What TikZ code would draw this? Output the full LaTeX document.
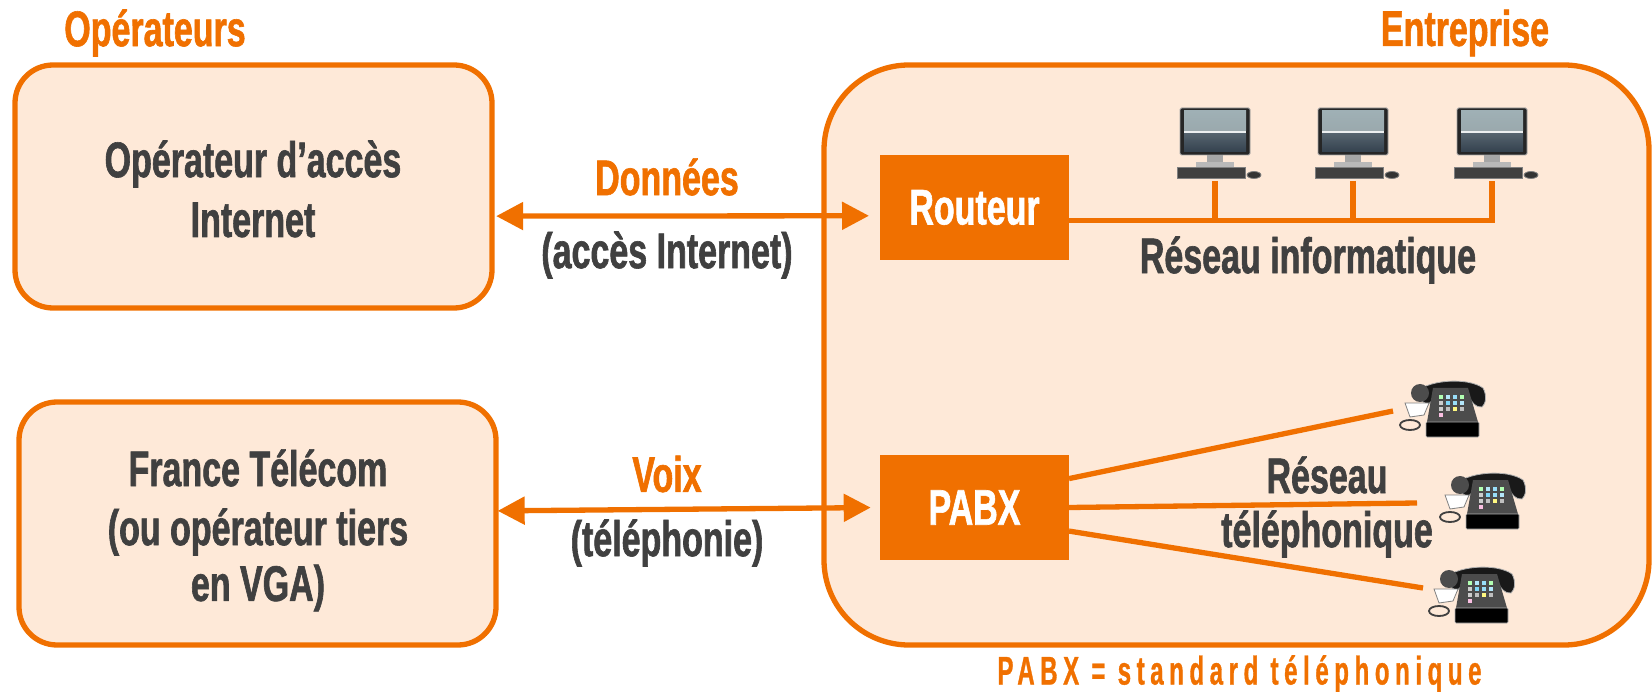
\documentclass[tikz,border=0pt]{standalone}
\usepackage{fontspec}
\usepackage{xcolor}
\usetikzlibrary{arrows.meta,shapes.geometric}
\setmainfont[FakeStretch=0.68,BoldFeatures={FakeBold=1.2}]{Liberation Sans}
\newfontfamily\spacedfont[FakeStretch=0.6,LetterSpace=14,BoldFeatures={FakeBold=0.8}]{Liberation Sans}
\definecolor{orangeft}{HTML}{F07000}
\definecolor{peachft}{HTML}{FEE9D8}
\definecolor{greyft}{HTML}{404040}
\definecolor{screentop}{HTML}{9FB0B5}
\definecolor{screenlow}{HTML}{34414E}

\tikzset{
  pics/computer/.style={code={
    % monitor
    \fill[black!85,draw=gray!70,line width=.8pt,rounded corners=1.5pt] (-35,-73) rectangle (35,-26);
    \fill[top color=screentop,bottom color=screentop!85!gray] (-31,-70) rectangle (31,-50);
    \fill[white!80!screentop] (-31,-50) rectangle (31,-47);
    \fill[top color=screenlow!70!screentop,bottom color=screenlow] (-31,-47) rectangle (31,-29);
    % stand, keyboard and mouse
    \fill[gray!70] (-8,-26) rectangle (8,-19);
    \fill[gray!55] (-19,-19) rectangle (19,-14);
    \fill[black!75,draw=gray,line width=1pt] (-38,-13) rectangle (30,-2);
    \fill[black!80,draw=gray,line width=.8pt] (39,-6) ellipse [x radius=7,y radius=3.5];
  }},
  pics/telephone/.style={code={
    % handset
    \fill[black!90,draw=gray!60,line width=.8pt] (14,15) .. controls (28,-1) and (70,-3) .. (85,8) .. controls (89,15) and (88,24) .. (84,27)
      .. controls (78,28) and (73,22) .. (71,16) .. controls (60,11) and (40,12) .. (30,25) -- cycle;
    \fill[black!70] (22,13) circle [radius=9];
    % cradle and white handle
    \fill[white,draw=gray,line width=.8pt] (7,23) -- (31,23) -- (26,35) -- (12,37) -- cycle;
    \draw[black!75,line width=1.8pt] (12,45) ellipse [x radius=10,y radius=5];
    % body
    \fill[black!70] (35,8) -- (70,8) -- (80,42) -- (29,42) -- cycle;
    \fill[black,draw=gray!60,line width=.6pt,rounded corners=1pt] (28,42) rectangle (81,57);
    % keypad
    \foreach \kx/\ky/\kc in {43/17/green!30,50/17/cyan!30,57/17/cyan!40,64/17/green!30,
      43/23/gray!40,50/23/cyan!50,57/23/cyan!40,64/23/cyan!30,
      43/29/gray!40,50/29/gray!50,57/29/yellow!50,64/29/gray!50,43/35/magenta!25}
      \fill[\kc] (\kx-2,\ky-2) rectangle (\kx+2,\ky+2);
  }}
}

\begin{document}
\begin{tikzpicture}[x=1pt,y=-1pt,thick,>={Triangle[length=27pt,width=27pt]},
  textnode/.style={font=\fontsize{50}{60}\selectfont\bfseries,text=greyft,inner sep=0pt},
  titlenode/.style={textnode,text=orangeft},
  zone/.style={draw=orangeft,fill=peachft,line width=5.3pt,minimum width=477pt,minimum height=243pt,rounded corners=38pt},
  equip/.style={fill=orangeft,minimum width=189pt,minimum height=105pt,inner sep=0pt,outer sep=0pt,
    text=white,font=\fontsize{50}{60}\selectfont\bfseries},
  flow/.style={<->,draw=orangeft,line width=5.3pt},
  wire/.style={draw=orangeft,line width=5.3pt}]

  \useasboundingbox (0,0) rectangle (1652,692);

  \node[zone,minimum width=825pt,minimum height=580pt,rounded corners=85pt] (entreprise) at (1236.5,355) {};
  \node[zone] (acces) at (253.5,186.5) {};
  \node[zone] (france) at (257.5,523.5) {};
  \node[equip] (routeur) at (974.5,207.5) {Routeur};
  \node[equip] (pabx) at (974.5,507.5) {PABX};

  \node[titlenode] (operateurs) at (155,33) {Opérateurs};
  \node[titlenode] (nomentreprise) at (1465,33) {Entreprise};
  \node[textnode] (acces1) at (253,164) {Opérateur d’accès};
  \node[textnode] (acces2) at (253,220) {Internet};
  \node[textnode] (france1) at (258,468) {France Télécom};
  \node[textnode] (france2) at (258,532) {(ou opérateur tiers};
  \node[textnode] (france3) at (258,588) {en VGA)};
  \node[titlenode] (donnees) at (667,177) {Données};
  \node[textnode] (donnees2) at (667,255) {(accès Internet)};
  \node[titlenode] (voix) at (667,474) {Voix};
  \node[textnode] (voix2) at (667,543) {(téléphonie)};
  \node[textnode] (reseauinfo) at (1308,260) {Réseau informatique};
  \node[textnode] (reseautel1) at (1327,475) {Réseau};
  \node[textnode] (reseautel2) at (1327,534) {téléphonique};
  \node[titlenode,font=\fontsize{40}{48}\selectfont\bfseries\spacedfont] (legende) at (1239.5,674) {PABX = standard téléphonique};

  % computers
  \foreach \n/\x in {1/1215,2/1353,3/1492} {
    \coordinate (pc\n) at (\x,181);
    \pic at (\x,181) {computer};
  }
  % telephones
  \pic at (1398,380) {telephone};
  \pic at (1438,472) {telephone};
  \pic at (1427,566) {telephone};
  \coordinate (tel1) at (1393,411);
  \coordinate (tel2) at (1417,503);
  \coordinate (tel3) at (1423,588);

  \draw[flow,shorten <=1.5pt,shorten >=11pt] (acces.-7.3) -- (routeur.185.7);
  \draw[flow,shorten <=-1pt,shorten >=9.3pt] (france.3.9) -- (pabx.west);

  \draw[wire] (routeur.-8) -| (pc3);
  \draw[wire] (pc1) -- (pc1 |- routeur.-8);
  \draw[wire] (pc2) -- (pc2 |- routeur.-8);
  \draw[wire] (pabx.17) -- (tel1);
  \draw[wire] (pabx.east) -- (tel2);
  \draw[wire] (pabx.-14.5) -- (tel3);
\end{tikzpicture}
\end{document}
